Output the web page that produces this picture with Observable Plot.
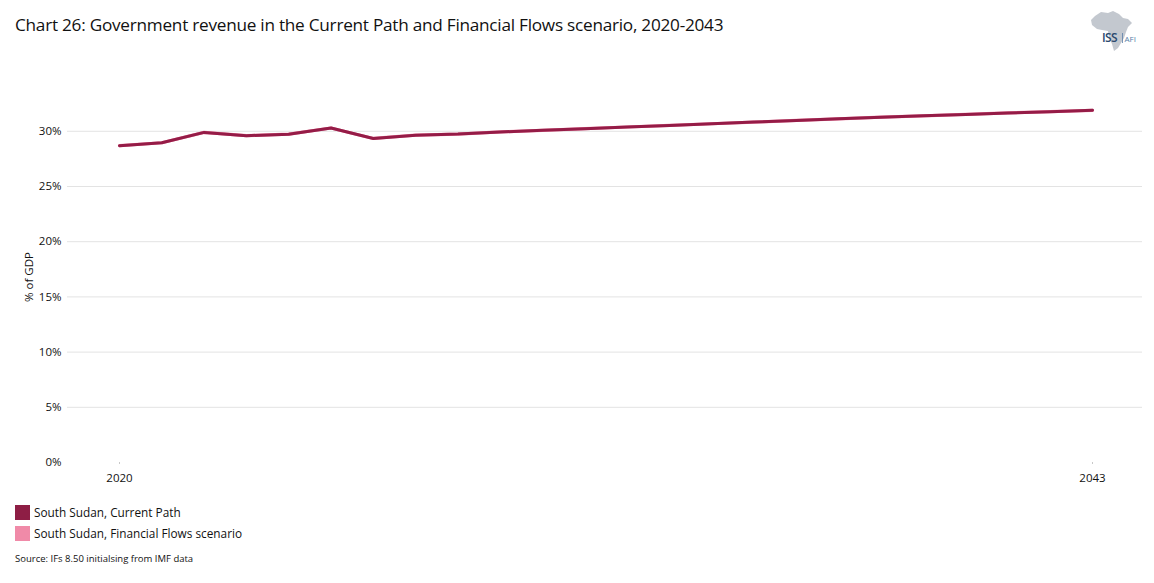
<!DOCTYPE html>
<html>
<head>
<meta charset="utf-8">
<script src="https://cdn.jsdelivr.net/npm/d3@7"></script>
<script src="https://cdn.jsdelivr.net/npm/@observablehq/plot@0.6"></script>
<style>
  html, body { margin: 0; padding: 0; background: #fff; }
  body { width: 1154px; height: 583px; position: relative; overflow: hidden; font-family: "Open Sans", Lato, sans-serif; color: #111; }
  #title { position: absolute; left: 15px; top: 13px; font-size: 17.2px; letter-spacing: -0.25px; color: #111; white-space: nowrap; }
  #chart { position: absolute; left: 0; top: 0; }
  #chart g[aria-label="x-axis tick"] { stroke: #c8c8c8; }
  #logo { position: absolute; left: 1086px; top: 8px; }
  #ylabel { position: absolute; left: 28px; top: 277px; transform: translate(-50%, -50%) rotate(-90deg); font-size: 11.5px; color: #111; white-space: nowrap; }
  .legend { position: absolute; left: 15px; font-size: 11.8px; color: #111; display: flex; align-items: center; white-space: nowrap; }
  .legend span.sw { display: inline-block; width: 15px; height: 15px; margin-right: 4px; }
  #source { position: absolute; left: 15px; top: 552px; font-size: 9.5px; color: #111; }
</style>
</head>
<body>
<div id="chart"></div>
<div id="title">Chart 26: Government revenue in the Current Path and Financial Flows scenario, 2020-2043</div>
<div id="ylabel">% of GDP</div>
<svg id="logo" width="60" height="46" viewBox="0 0 60 46">
  <path d="M9,8 L15,4 L22,5 L27,3 L33,6 L37,10 L42,11 L46,15 L42,19 L40,24 L38,30 L35,35 L32,40 L28,43 L26,36 L23,29 L22,23 L16,22 L11,21 L6,17 L5,12 Z" fill="#c3c8cf"/>
  <text x="16" y="34" font-family="Open Sans, sans-serif" font-size="12" fill="#2b4a6f" font-weight="600" letter-spacing="-0.6">ISS</text>
  <rect x="36" y="25" width="0.8" height="10" fill="#5a7fa8"/>
  <text x="38.5" y="33.5" font-family="Open Sans, sans-serif" font-size="8" fill="#5a7fa8">AFI</text>
</svg>
<div class="legend" style="top:504px"><span class="sw" style="background:#8e1e45"></span>South Sudan, Current Path</div>
<div class="legend" style="top:525px"><span class="sw" style="background:#f08aa8"></span>South Sudan, Financial Flows scenario</div>
<div id="source">Source: IFs 8.50 initialsing from IMF data</div>
<script>
const years = d3.range(2020, 2044);
const currentPath = [28.7, 28.96, 29.9, 29.6, 29.74, 30.3, 29.35, 29.65, 29.75, 29.94, 30.09, 30.24, 30.39, 30.53, 30.68, 30.83, 30.98, 31.13, 31.28, 31.40, 31.53, 31.66, 31.78, 31.9];
const financialFlows = [28.7, 28.96, 29.9, 29.6, 29.74, 30.3, 29.35, 29.65, 29.75, 29.94, 30.09, 30.24, 30.39, 30.53, 30.68, 30.83, 30.98, 31.13, 31.28, 31.40, 31.53, 31.66, 31.78, 31.9];
const yTicks = [0, 5, 10, 15, 20, 25, 30];
const gridTicks = [5, 10, 15, 20, 25, 30];
const xTicks = [2020, 2043];

const cp = years.map((y, i) => ({year: y, value: currentPath[i], series: "South Sudan, Current Path"}));
const ff = years.map((y, i) => ({year: y, value: financialFlows[i], series: "South Sudan, Financial Flows scenario"}));

const chart = Plot.plot({
  width: 1154,
  height: 490,
  marginLeft: 119,
  marginRight: 62,
  marginTop: 108.7,
  marginBottom: 28,
  style: {fontFamily: "'Open Sans', Lato, sans-serif", fontSize: "11.5px", color: "#111", background: "transparent"},
  x: {domain: [2020, 2043], ticks: xTicks, tickFormat: d => String(d), tickSize: 2, tickPadding: 9, label: null},
  y: {domain: [0, 32], ticks: yTicks, tickFormat: d => d + "%", tickSize: 0, tickPadding: 58, label: null},
  marks: [
    Plot.ruleY(gridTicks, {stroke: "#e3e3e3", strokeWidth: 1, insetLeft: -52, insetRight: -50}),
    Plot.line(ff, {x: "year", y: "value", stroke: "#f08aa8", strokeWidth: 3.2}),
    Plot.line(cp, {x: "year", y: "value", stroke: "#951c47", strokeWidth: 3})
  ]
});
document.getElementById("chart").appendChild(chart);
</script>
</body>
</html>
